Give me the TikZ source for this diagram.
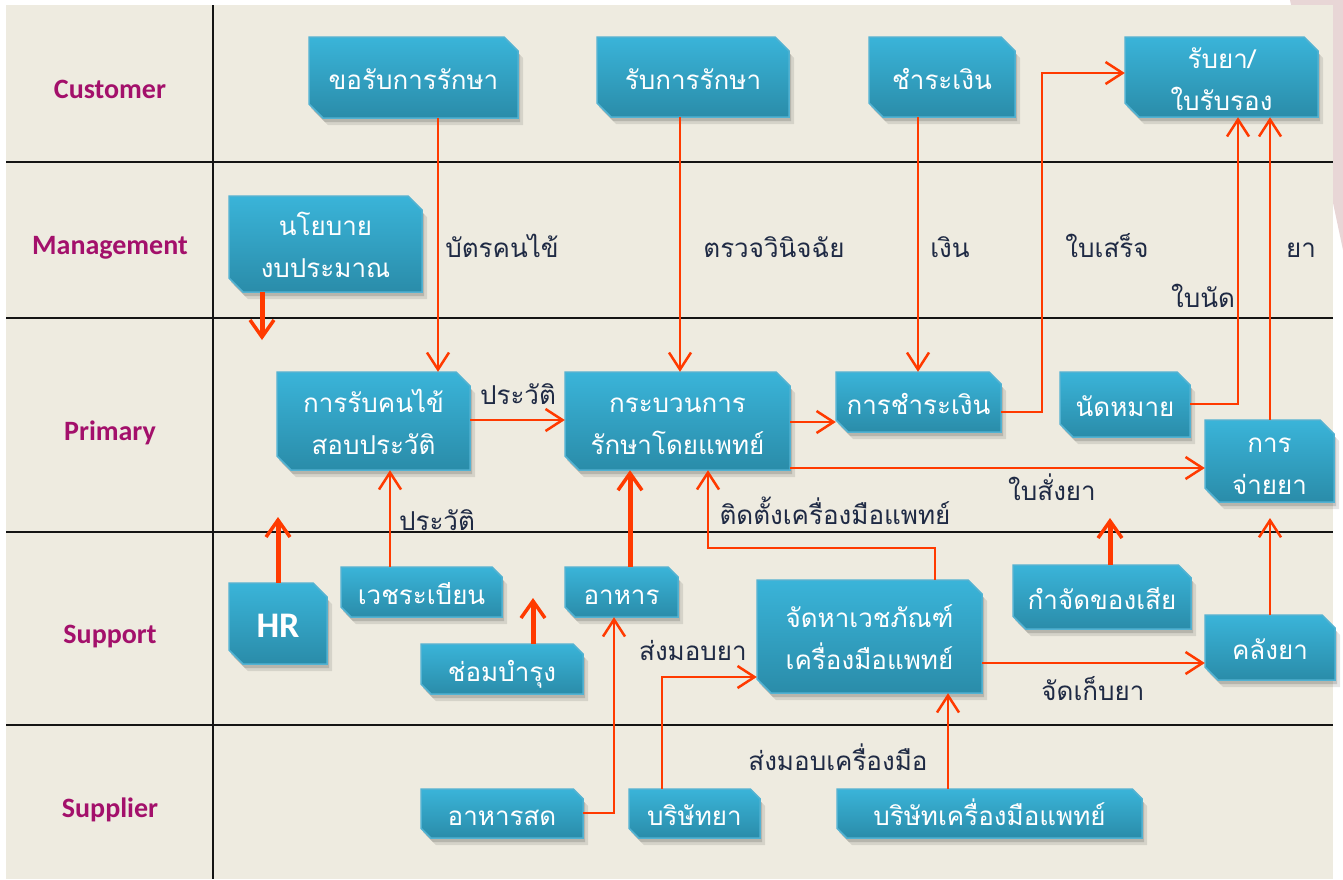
\documentclass[tikz,border=0pt]{standalone}
\usepackage{fontspec}
\newfontfamily\thai[Script=Thai]{Loma}
\newfontfamily\latf{Carlito}
\usetikzlibrary{arrows.meta}
\definecolor{bgc}{HTML}{EEEBE0}
\definecolor{pinkc}{HTML}{E8D6D6}
\definecolor{lanec}{HTML}{A3106B}
\definecolor{edgec}{HTML}{1F2A44}
\definecolor{arrc}{HTML}{FF3A00}
\definecolor{boxtop}{HTML}{3AB4D9}
\definecolor{boxbot}{HTML}{2A8CA9}
\definecolor{boxedge}{HTML}{52B2D2}
\tikzset{
  laneline/.style={line width=2.5pt, draw=black!92},
  lanelbl/.style={font=\latf\bfseries\fontsize{28}{32}\selectfont, text=lanec, anchor=base, inner sep=0pt},
  boxnode/.style={inner sep=0pt, draw=none},
  boxtext/.style={text=white, font=\thai\fontsize{26}{42}\selectfont, align=center, inner sep=0pt, yshift=-4pt},
  elbl/.style={text=edgec, font=\thai\fontsize{26}{32}\selectfont, anchor=base, inner sep=0pt},
  flow/.style={draw=arrc, line width=2.5pt, -{Straight Barb[length=17pt, width=22pt, line width=2.5pt]}},
  bigflow/.style={draw=arrc, line width=5pt, -{Straight Barb[length=17pt, width=24pt, line width=3.5pt]}},
  boxshape/.style={top color=boxtop, bottom color=boxbot, draw=boxedge, line width=1.5pt},
}
\newcommand{\bx}[6]{%
  \pgfmathsetmacro\ch{min(14,0.2*(#5-#3))}%
  \fill[black, opacity=.10] ({#2+5},{#3+7}) -- ({#4-\ch+5},{#3+7}) -- ({#4+5},{#3+\ch+7}) -- ({#4+5},{#5+7}) -- ({#2+\ch+5},{#5+7}) -- ({#2+5},{#5-\ch+7}) -- cycle;
  \fill[black, opacity=.14] ({#2+2},{#3+4}) -- ({#4-\ch+2},{#3+4}) -- ({#4+2},{#3+\ch+4}) -- ({#4+2},{#5+4}) -- ({#2+\ch+2},{#5+4}) -- ({#2+2},{#5-\ch+4}) -- cycle;
  \shadedraw[boxshape] (#2,#3) -- ({#4-\ch},#3) -- (#4,{#3+\ch}) -- (#4,#5) -- ({#2+\ch},#5) -- (#2,{#5-\ch}) -- cycle;
  \node[boxnode, minimum width={(#4-#2)*1pt}, minimum height={(#5-#3)*1pt}] (#1) at ({(#2+#4)/2},{(#3+#5)/2}) {};
  \node[boxtext] (#1t) at (#1.center) {#6};
}
\begin{document}
\begin{tikzpicture}[x=1pt,y=-1pt]
\useasboundingbox (0,0) rectangle (1343,879);
\fill[white] (0,0) rectangle (1343,879);
\fill[pinkc] (1290,0) -- (1343,0) -- (1343,250) -- cycle;
\fill[bgc] (6,5) rectangle (1333,879);
% lanes
\foreach \yy in {162,318,532,725} \draw[laneline] (6,\yy) -- (1333,\yy);
\draw[laneline] (213,5) -- (213,879);
\node[lanelbl] (lcus) at (110,98) {Customer};
\node[lanelbl] (lman) at (110,254) {Management};
\node[lanelbl] (lpri) at (110,440) {Primary};
\node[lanelbl] (lsup) at (110,643) {Support};
\node[lanelbl] (lspl) at (110,817) {Supplier};
% boxes
\bx{b1}{309}{37}{518}{118}{\strut ขอรับการรักษา}
\bx{b2}{597}{37}{789}{117}{\strut รับการรักษา}
\bx{b3}{869}{37}{1015}{117}{\strut ชำระเงิน}
\bx{b4}{1125}{37}{1318}{117}{\strut รับยา/\\\strut ใบรับรอง}
\bx{b5}{229}{196}{422}{292}{\strut นโยบาย\\\strut งบประมาณ}
\bx{b6}{277}{372}{470}{470}{\strut การรับคนไข้\\\strut สอบประวัติ}
\bx{b7}{565}{372}{790}{470}{\strut กระบวนการ\\\strut รักษาโดยแพทย์}
\bx{b8}{836}{372}{1001}{432}{\strut การชำระเงิน}
\bx{b9}{1060}{372}{1190}{437}{\strut นัดหมาย}
\bx{b10}{1205}{420}{1334}{502}{\strut การ\\\strut จ่ายยา}
\bx{b11}{229}{583}{327}{664}{\latf\bfseries\fontsize{36}{40}\selectfont\raisebox{4pt}{HR}}
\bx{b12}{341}{567}{502}{617}{\strut เวชระเบียน}
\bx{b13}{421}{644}{583}{694}{\strut ช่อมบำรุง}
\bx{b14}{565}{567}{678}{617}{\strut อาหาร}
\bx{b15}{757}{580}{982}{693}{\strut จัดหาเวชภัณฑ์\\\strut เครื่องมือแพทย์}
\bx{b16}{1013}{565}{1191}{629}{\strut กำจัดของเสีย}
\bx{b17}{1205}{615}{1335}{680}{\strut คลังยา}
\bx{b18}{421}{789}{583}{838}{\strut อาหารสด}
\bx{b19}{629}{789}{760}{838}{\strut บริษัทยา}
\bx{b20}{837}{789}{1142}{838}{\strut บริษัทเครื่องมือแพทย์}
% free ends
\coordinate (e7) at (262,340);
\coordinate (e12) at (278,517);
\coordinate (e13) at (533,598);
\coordinate (e16) at (1110,518);
\coordinate (e17) at (1270,518);
% connectors
\draw[flow] (b1.south -| 438,0) -- (b6.north -| 438,0);
\draw[flow] (b2.south -| 680,0) -- (b7.north -| 680,0);
\draw[flow] (b3.south -| 918,0) -- (b8.north -| 918,0);
\draw[flow] (b8.east |- 0,412) -- (1042,412) -- (1042,73) -- (b4.west |- 0,73);
\draw[flow] (b9.east |- 0,404) -| (b4.south -| 1238,0);
\draw[flow] (b10.north -| 1270,0) -- (b4.south -| 1270,0);
\draw[bigflow] (b5.south -| 262,0) -- (e7);
\draw[flow] (b6.east |- 0,420) -- (b7.west |- 0,420);
\draw[flow] (b7.east |- 0,422) -- (b8.west |- 0,422);
\draw[flow] (b7.east |- 0,468) -- (b10.west |- 0,468);
\draw[flow] (b12.north -| 390,0) -- (b6.south -| 390,0);
\draw[bigflow] (b11.north -| 278,0) -- (e12);
\draw[bigflow] (b13.north -| 533,0) -- (e13);
\draw[bigflow] (b14.north -| 630,0) -- (b7.south -| 630,0);
\draw[flow] (b15.north -| 935,0) |- (708,548) -- (b7.south -| 708,0);
\draw[bigflow] (b16.north -| 1110,0) -- (e16);
\draw[flow] (b17.north -| 1270,0) -- (e17);
\draw[flow] (b15.east |- 0,663) -- (b17.west |- 0,663);
\draw[flow] (b18.east |- 0,813) -| (b14.south -| 614,0);
\draw[flow] (b19.north -| 662,0) |- (b15.west |- 0,677);
\draw[flow] (b20.north -| 948,0) -- (b15.south -| 948,0);
% edge labels
\node[elbl] (t1) at (502,257) {บัตรคนไข้};
\node[elbl] (t2) at (774,257) {ตรวจวินิจฉัย};
\node[elbl] (t3) at (950,257) {เงิน};
\node[elbl] (t4) at (1107,257) {ใบเสร็จ};
\node[elbl] (t5) at (1301,257) {ยา};
\node[elbl] (t6) at (1203,307) {ใบนัด};
\node[elbl] (t7) at (518,404) {ประวัติ};
\node[elbl] (t8) at (437,530) {ประวัติ};
\node[elbl] (t9) at (835,524) {ติดตั้งเครื่องมือแพทย์};
\node[elbl] (t10) at (1052,500) {ใบสั่งยา};
\node[elbl] (t11) at (693,660) {ส่งมอบยา};
\node[elbl] (t12) at (1093,700) {จัดเก็บยา};
\node[elbl] (t13) at (838,770) {ส่งมอบเครื่องมือ};
\end{tikzpicture}
\end{document}
